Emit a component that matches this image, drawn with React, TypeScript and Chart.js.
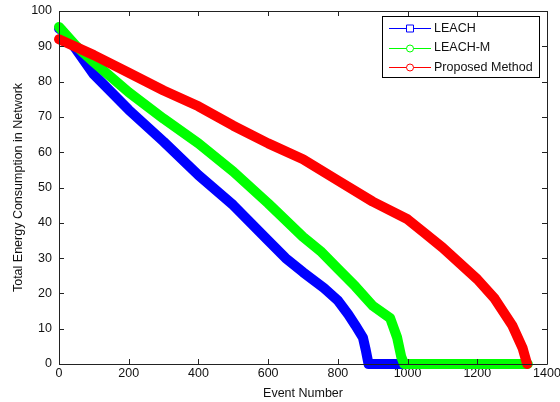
import React, { useEffect, useRef } from "react";
import { Chart, registerables } from "chart.js";

Chart.register(...registerables);

// ---- data ----
const leachEvents = [0, 8, 50, 100, 200, 300, 400, 500, 600, 650, 700, 760, 800, 830, 850, 872, 880, 888, 985];
const leachEnergy = [95, 94.5, 89, 82, 72, 63, 53.5, 45, 35, 30, 26, 21.5, 18, 14, 11, 7.5, 4, 0, 0];

const leachMEvents = [0, 50, 100, 200, 300, 400, 500, 600, 700, 750, 800, 850, 900, 950, 970, 982, 990, 1345];
const leachMEnergy = [95.5, 90, 85.5, 77, 69.5, 62.5, 54.5, 45.5, 36, 32, 27, 22, 16.5, 13, 7.5, 2, 0, 0];

const proposedEvents = [0, 100, 200, 300, 400, 500, 600, 700, 800, 900, 1000, 1050, 1100, 1200, 1250, 1300, 1330, 1343];
const proposedEnergy = [92, 87.5, 82.5, 77.5, 73, 67.5, 62.5, 58, 52, 46, 41, 37, 33, 24, 18.5, 11, 4.5, 0];

const seriesNames = ["LEACH", "LEACH-M", "Proposed Method"];
const seriesColors = ["#0000ff", "#00ff00", "#ff0000"];
const seriesMarkers = ["square", "circle", "circle"];

const xTicks = [0, 200, 400, 600, 800, 1000, 1200, 1400];
const yTicks = [0, 10, 20, 30, 40, 50, 60, 70, 80, 90, 100];

const xTitle = "Event Number";
const yTitle = "Total Energy Consumption in Network";

const FONT = '"Liberation Sans", Arial, sans-serif';

function pairs(xs: number[], ys: number[]) {
  return xs.map((x, i) => ({ x, y: ys[i] }));
}

const frameAndLegend = {
  id: "frameAndLegend",
  afterDatasetsDraw(chart: any) {
    const { ctx, chartArea, scales } = chart;
    const { left, right, top, bottom } = chartArea;
    ctx.save();
    ctx.strokeStyle = "#222";
    ctx.lineWidth = 1;
    ctx.beginPath();
    ctx.rect(Math.round(left) + 0.5, Math.round(top) + 0.5, Math.round(right - left), Math.round(bottom - top));
    ctx.stroke();
    const tl = 5;
    ctx.beginPath();
    for (const v of xTicks) {
      const px = Math.round(scales.x.getPixelForValue(v)) + 0.5;
      ctx.moveTo(px, bottom);
      ctx.lineTo(px, bottom - tl);
      ctx.moveTo(px, top);
      ctx.lineTo(px, top + tl);
    }
    for (const v of yTicks) {
      const py = Math.round(scales.y.getPixelForValue(v)) + 0.5;
      ctx.moveTo(left, py);
      ctx.lineTo(left + tl, py);
      ctx.moveTo(right, py);
      ctx.lineTo(right - tl, py);
    }
    ctx.stroke();
    ctx.restore();
  },
  afterDraw(chart: any) {
    const { ctx } = chart;
    ctx.save();
    const bx = 382.5, by = 16.5, bw = 157, bh = 61;
    ctx.fillStyle = "#fff";
    ctx.fillRect(bx, by, bw, bh);
    ctx.strokeStyle = "#000";
    ctx.lineWidth = 1;
    ctx.strokeRect(bx, by, bw, bh);
    const rows = [28, 47.5, 67];
    ctx.font = `12.5px ${FONT}`;
    ctx.textBaseline = "middle";
    ctx.textAlign = "left";
    seriesNames.forEach((name, i) => {
      const y = Math.round(rows[i]) + 0.5;
      ctx.strokeStyle = seriesColors[i];
      ctx.lineWidth = 1;
      ctx.beginPath();
      ctx.moveTo(389, y);
      ctx.lineTo(431, y);
      ctx.stroke();
      ctx.beginPath();
      if (seriesMarkers[i] === "square") {
        ctx.rect(406.5, y - 3.5, 7, 7);
      } else {
        ctx.arc(410, y, 3.5, 0, Math.PI * 2);
      }
      ctx.fillStyle = "#fff";
      ctx.fill();
      ctx.stroke();
      ctx.fillStyle = "#111";
      ctx.fillText(name, 434, rows[i] + 0.5);
    });
    ctx.restore();
  },
};

export default function App() {
  const ref = useRef<HTMLCanvasElement | null>(null);
  useEffect(() => {
    if (!ref.current) return;
    const mk = (i: number, xs: number[], ys: number[], order: number) => ({
      label: seriesNames[i],
      data: pairs(xs, ys),
      borderColor: seriesColors[i],
      backgroundColor: seriesColors[i],
      borderWidth: 10,
      pointRadius: 0,
      order,
      clip: false as any,
      borderJoinStyle: "round" as const,
      borderCapStyle: "round" as const,
    });
    const chart = new Chart(ref.current, {
      type: "line",
      data: {
        datasets: [
          mk(0, leachEvents, leachEnergy, 2),
          mk(1, leachMEvents, leachMEnergy, 1),
          mk(2, proposedEvents, proposedEnergy, 0),
        ],
      },
      options: {
        responsive: false,
        animation: false,
        parsing: false as any,
        layout: { padding: { left: 0, top: 11, right: 13, bottom: 0 } },
        plugins: { legend: { display: false }, tooltip: { enabled: false } },
        scales: {
          x: {
            type: "linear",
            min: 0,
            max: 1400,
            afterFit: (s: any) => { s.height = 38; s.paddingLeft = 0; s.paddingRight = 0; },
            afterBuildTicks: (s: any) => { s.ticks = xTicks.map((v) => ({ value: v })); },
            grid: { display: false, drawTicks: false },
            border: { display: false },
            ticks: { color: "#111", font: { family: FONT, size: 12.5 }, padding: 2, maxRotation: 0, callback: (v: any) => String(v) },
            title: { display: true, text: xTitle, color: "#111", font: { family: FONT, size: 12.5 }, padding: { top: 0, bottom: 0.5 } },
          },
          y: {
            type: "linear",
            min: 0,
            max: 100,
            afterFit: (s: any) => { s.width = 59; s.paddingTop = 0; s.paddingBottom = 0; },
            afterBuildTicks: (s: any) => { s.ticks = yTicks.map((v) => ({ value: v })); },
            grid: { display: false, drawTicks: false },
            border: { display: false },
            ticks: { color: "#111", font: { family: FONT, size: 12.5 }, padding: 7, callback: (v: any) => String(v) },
            title: { display: true, text: yTitle, color: "#111", font: { family: FONT, size: 12.5 }, padding: { top: 11, bottom: 0 } },
          },
        },
      },
      plugins: [frameAndLegend],
    });
    return () => chart.destroy();
  }, []);
  return (
    <div style={{ position: "absolute", left: 0, top: 0, width: 560, height: 402, background: "#fff" }}>
      <canvas ref={ref} width={560} height={402} />
    </div>
  );
}
